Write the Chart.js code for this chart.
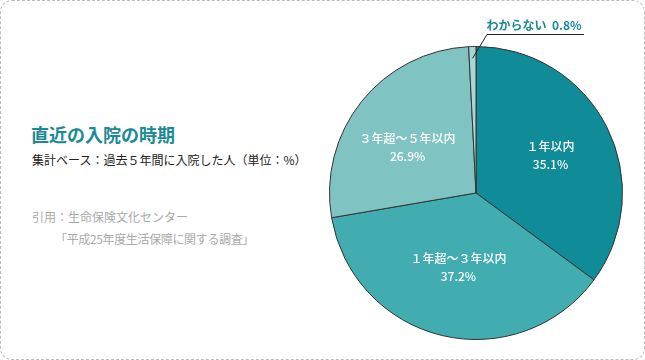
<!DOCTYPE html>
<html><head><meta charset="utf-8">
<script src="https://cdn.jsdelivr.net/npm/chart.js@4"></script>
<style>
html,body{margin:0;padding:0;background:#fff;}
#wrap{position:relative;width:645px;height:360px;}
#frame{position:absolute;left:0;top:0;width:643px;height:358px;border:1px dashed #bbb;border-radius:12px;box-sizing:content-box;}
.t{position:absolute;font-family:"Noto Sans CJK JP","Noto Sans",sans-serif;white-space:nowrap;}
#title{left:31px;top:121px;font-size:18px;font-weight:bold;color:#1a8a96;}
#sub{left:32px;top:151px;font-size:12px;color:#222;}
#cite1{left:32px;top:208px;font-size:12px;color:#aaa;}
#cite2{left:55px;top:230px;font-size:12px;color:#aaa;letter-spacing:-0.35px;}
#c{position:absolute;left:0;top:0;}
</style></head>
<body><div id="wrap">
<div id="frame"></div>
<div class="t" id="title">直近の入院の時期</div>
<div class="t" id="sub">集計ベース：過去５年間に入院した人（単位：%）</div>
<div class="t" id="cite1">引用：生命保険文化センター</div>
<div class="t" id="cite2">「平成25年度生活保障に関する調査」</div>
<canvas id="c" width="645" height="360"></canvas>
</div>
<script>
const categories = ["１年以内", "１年超～３年以内", "３年超～５年以内", "わからない"];
const values = [35.1, 37.2, 26.9, 0.8];
const valueLabels = ["35.1%", "37.2%", "26.9%", "0.8%"];
const colors = ["#108b98", "#41adb1", "#7fc4c2", "#a9d5d5"];

const labelPlugin = {
  id: 'sliceLabels',
  afterDatasetsDraw(chart) {
    const ctx = chart.ctx;
    const meta = chart.getDatasetMeta(0);
    ctx.save();
    ctx.textAlign = 'center';
    ctx.textBaseline = 'middle';
    const fracs = [0.57, 0.52, 0.56];
    const angAdj = [0, 0, -0.09];
    meta.data.forEach((arc, i) => {
      const p = arc.getProps(['x','y','startAngle','endAngle','outerRadius'], true);
      const mid = (p.startAngle + p.endAngle) / 2;
      if (i < 3) {
        const a = mid + angAdj[i];
        const r = p.outerRadius * fracs[i];
        const cx = p.x + Math.cos(a) * r;
        const cy = p.y + Math.sin(a) * r;
        ctx.fillStyle = '#fff';
        ctx.font = '500 12px "Noto Sans CJK JP", sans-serif';
        ctx.fillText(categories[i], cx, cy - 9);
        ctx.fillText(valueLabels[i], cx, cy + 9);
      } else {
        const r0 = p.outerRadius * 0.92;
        const sx = p.x + Math.cos(mid) * r0;
        const sy = p.y + Math.sin(mid) * r0;
        const ex = p.x + 11, ey = p.y - p.outerRadius - 12;
        ctx.strokeStyle = '#222';
        ctx.lineWidth = 1;
        ctx.beginPath();
        ctx.moveTo(sx, sy);
        ctx.lineTo(ex, ey);
        ctx.lineTo(ex + 97, ey);
        ctx.stroke();
        ctx.fillStyle = '#1a8a96';
        ctx.font = 'bold 12px "Noto Sans CJK JP", sans-serif';
        ctx.textAlign = 'center';
        ctx.fillText(categories[i] + '  ' + valueLabels[i], ex + 47, ey - 9);
      }
    });
    ctx.restore();
  }
};

new Chart(document.getElementById('c'), {
  type: 'pie',
  data: {
    labels: categories,
    datasets: [{
      data: values,
      backgroundColor: colors,
      borderColor: '#333',
      borderWidth: 1
    }]
  },
  options: {
    responsive: false,
    animation: false,
    layout: { padding: { left: 329, right: 22, top: 46, bottom: 20 } },
    plugins: { legend: { display: false }, tooltip: { enabled: false } }
  },
  plugins: [labelPlugin]
});
</script>
</body></html>
